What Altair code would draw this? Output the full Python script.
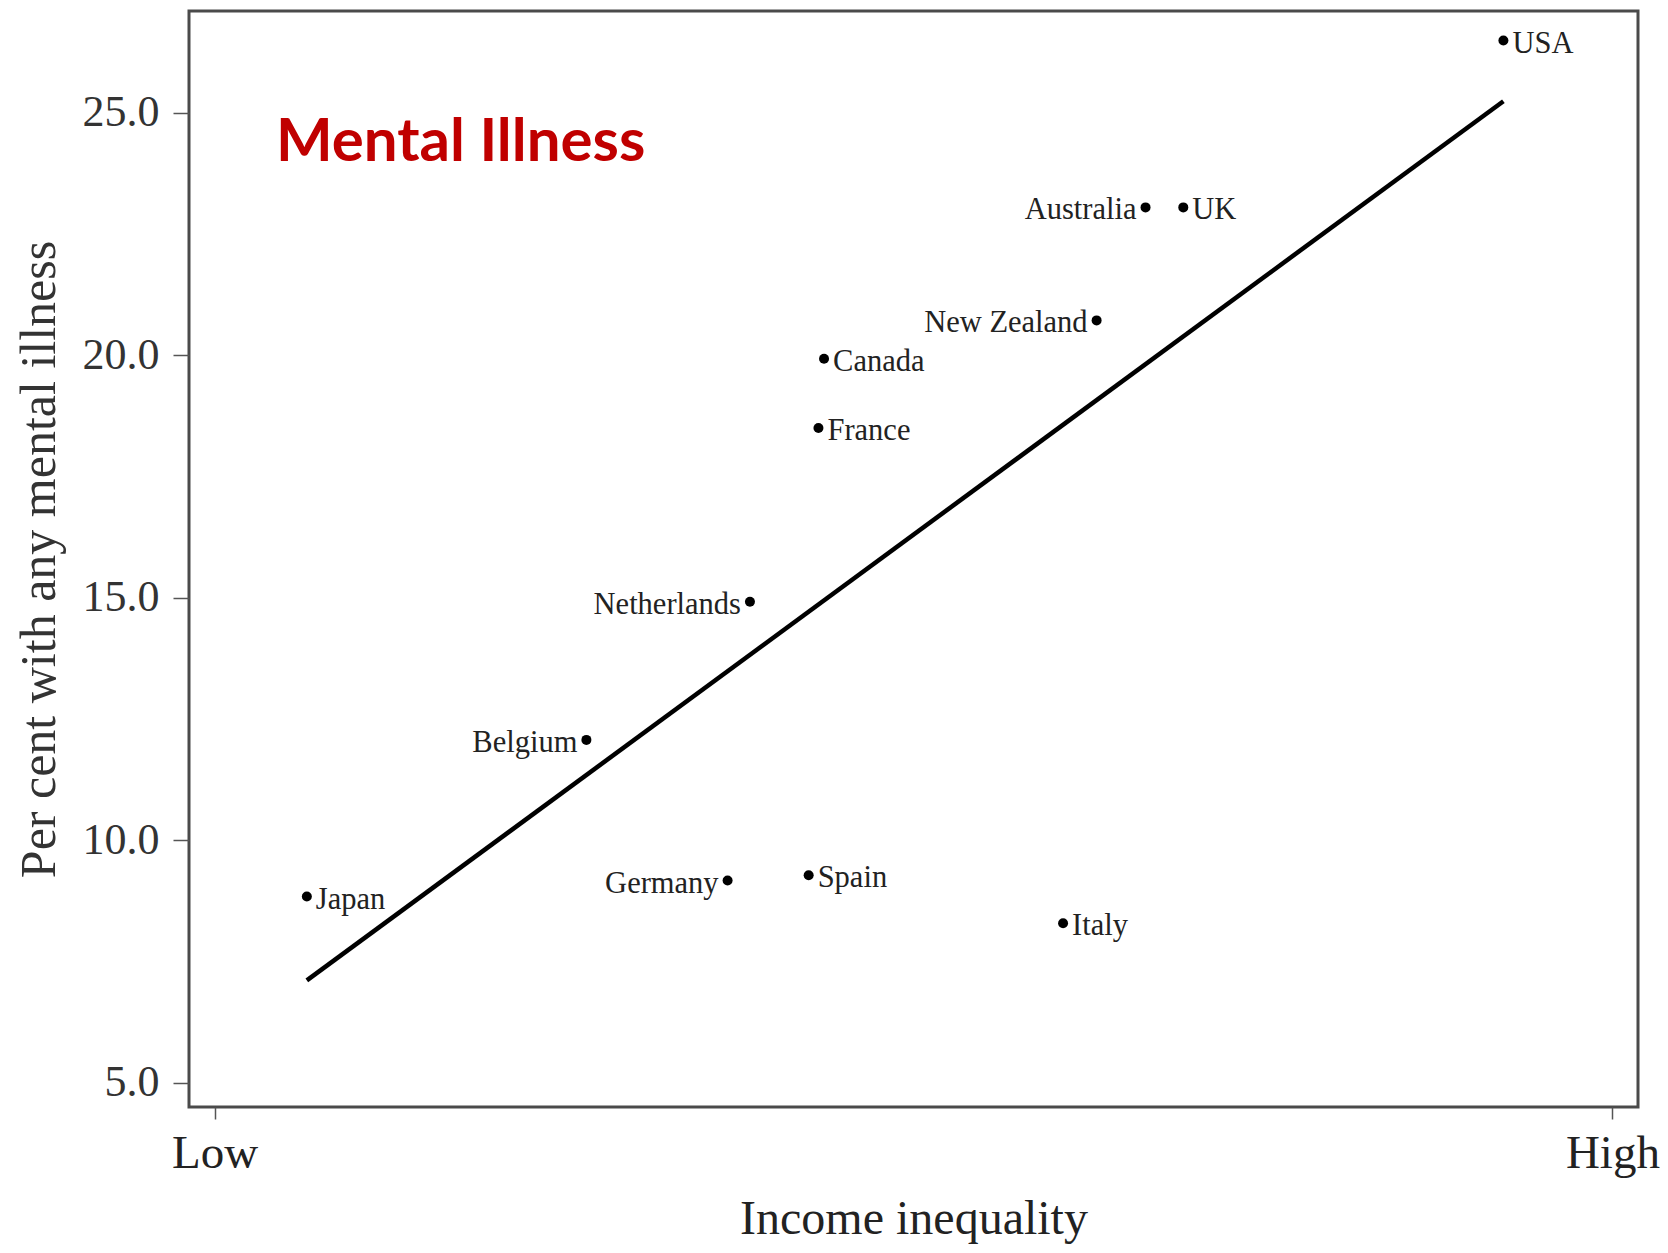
import altair as alt
import pandas as pd

# ---- data ----
countries = ["Japan", "Belgium", "Netherlands", "Germany", "Spain", "France",
             "Canada", "Italy", "New Zealand", "Australia", "UK", "USA"]
inequality = [6.6, 26.6, 38.3, 36.7, 42.5, 43.2, 43.6, 60.7, 63.1, 66.6, 69.3, 92.2]
mental_illness = [8.84, 12.07, 14.92, 9.17, 9.28, 18.50, 19.93, 8.29, 20.72, 23.05, 23.05, 26.49]
label_side = ["right", "left", "left", "left", "right", "right",
              "right", "right", "left", "left", "right", "right"]

fit_x = [6.6, 92.2]
fit_y = [7.11, 25.24]

y_ticks = [5, 10, 15, 20, 25]
x_ticks = [0, 100]
x_tick_labels = ["Low", "High"]

title_text = "Mental Illness"
x_title = "Income inequality"
y_title = "Per cent with any mental illness"

df = pd.DataFrame({"country": countries, "x": inequality, "y": mental_illness, "side": label_side})
fit = pd.DataFrame({"x": fit_x, "y": fit_y})

serif = "Liberation Serif"
label_expr = " : ".join(
    [f"datum.value == {v} ? '{l}'" for v, l in zip(x_ticks[:-1], x_tick_labels[:-1])]
) + f" : '{x_tick_labels[-1]}'"

xs = alt.Scale(domain=[-1.83, 101.83], nice=False, zero=False)
ys = alt.Scale(domain=[4.5, 27.1], nice=False, zero=False)

x_enc = alt.X("x:Q", scale=xs, title=x_title,
              axis=alt.Axis(values=x_ticks, labelExpr=label_expr, grid=False, domain=False,
                            tickSize=12, tickColor="#555", tickWidth=1.5, labelPadding=11,
                            labelFont=serif, labelFontSize=47, labelColor="#222",
                            titleFont=serif, titleFontSize=48, titleFontWeight="normal",
                            titleColor="#222", titlePadding=19, labelFlush=False))
y_enc = alt.Y("y:Q", scale=ys, title=y_title,
              axis=alt.Axis(values=y_ticks, format=".1f", grid=False, domain=False,
                            tickSize=16, tickColor="#555", tickWidth=1.5, labelPadding=14,
                            labelFont=serif, labelFontSize=44, labelColor="#333",
                            titleFont=serif, titleFontSize=50, titleFontWeight="normal",
                            titleColor="#333", titlePadding=18))

line = alt.Chart(fit).mark_line(color="black", strokeWidth=4.5).encode(x=x_enc, y=y_enc)
points = alt.Chart(df).mark_circle(color="black", opacity=1, size=100).encode(x="x:Q", y="y:Q")

right_txt = alt.Chart(df).transform_filter(alt.datum.side == "right").mark_text(
    align="left", baseline="middle", dx=9, dy=3, font=serif, fontSize=30.5, color="#222"
).encode(x="x:Q", y="y:Q", text="country:N")
left_txt = alt.Chart(df).transform_filter(alt.datum.side == "left").mark_text(
    align="right", baseline="middle", dx=-9, dy=3, font=serif, fontSize=30.5, color="#222"
).encode(x="x:Q", y="y:Q", text="country:N")

chart = alt.layer(line, points, right_txt, left_txt).properties(
    width=1449, height=1096,
    title=alt.TitleParams(title_text, anchor="start", frame="group", orient="top",
                          font="Lato", fontSize=60, fontWeight="bold", color="#C00000",
                          baseline="alphabetic", offset=0, dx=87, dy=210),
    autosize=alt.AutoSizeParams(type="none"),
    padding={"left": 181, "top": 3, "right": 22, "bottom": 138},
).configure(background="white").configure_view(stroke="#4a4a4a", strokeWidth=3)

chart.save("out.html", embed_options={"renderer": "svg", "actions": False})
